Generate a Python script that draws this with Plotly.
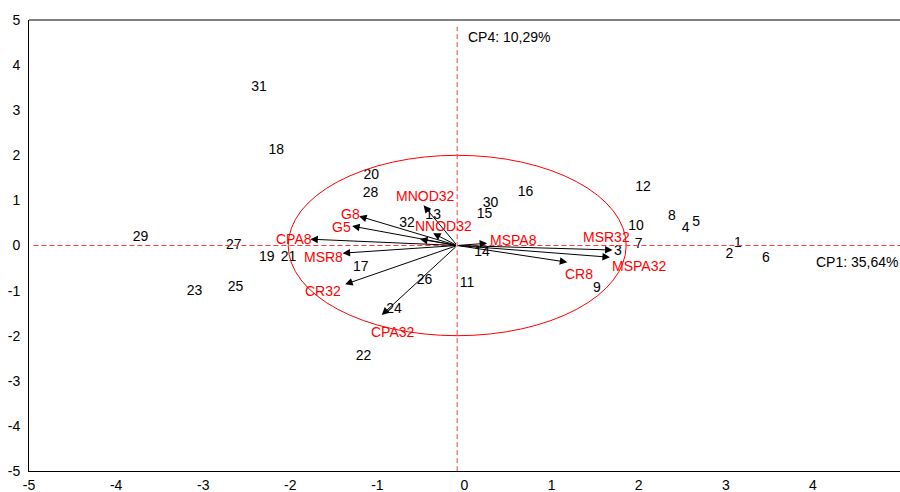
import plotly.graph_objects as go

# Observation scores (labelled by observation number)
obs_labels = ["1", "2", "3", "4", "5", "6", "7", "8", "9", "10",
              "11", "12", "13", "14", "15", "16", "17", "18", "19", "20",
              "21", "22", "23", "24", "25", "26", "27", "28", "29", "30",
              "31", "32"]
obs_x = [3.14, 3.04, 1.76, 2.54, 2.66, 3.46, 2.00, 2.38, 1.52, 1.97,
         0.03, 2.05, -0.36, 0.20, 0.23, 0.70, -1.19, -2.16, -2.27, -1.07,
         -2.02, -1.16, -3.10, -0.81, -2.63, -0.46, -2.65, -1.08, -3.72, 0.30,
         -2.36, -0.66]
obs_y = [0.05, -0.19, -0.13, 0.38, 0.52, -0.28, 0.03, 0.65, -0.95, 0.43,
         -0.84, 1.29, 0.67, -0.15, 0.69, 1.18, -0.48, 2.11, -0.26, 1.56,
         -0.26, -2.46, -1.02, -1.41, -0.93, -0.77, 0.00, 1.16, 0.18, 0.94,
         3.51, 0.49]

# Variable loadings (arrow tips)
var_names = ["G8", "G5", "CPA8", "MSR8", "CR32", "CPA32", "MNOD32", "NNOD32",
             "", "MSPA8", "MSR32", "MSPA32", "CR8"]
var_x = [-1.21, -1.29, -1.77, -1.40, -1.37, -0.95, -0.47, -0.36,
         -0.51, 0.26, 1.70, 1.67, 1.18]
var_y = [0.65, 0.43, 0.14, -0.17, -0.86, -1.54, 0.89, 0.27,
         0.14, 0.05, -0.10, -0.26, -0.37]

# Label placement relative to arrow tip, in pixels (dx, dy up)
var_label_shift = [(-9, 2), (-11, -1), (-16, 0), (-19, -4), (-22, -7), (11, -17),
                   (2, 9), (10, 7), (0, 0), (26, 3), (-6, 13), (29, -9), (12, -12)]

# Axis ticks
tick_vals = [-5, -4, -3, -2, -1, 0, 1, 2, 3, 4, 5]
tick_text = ["-5", "-4", "-3", "-2", "-1", "0", "1", "2", "3", "4", "5"]

# Origin of the biplot and correlation-circle radii
origin_x, origin_y = -0.084, 0.0
circle_rx, circle_ry = 1.94, 2.0

axis_title_cp1 = "CP1: 35,64%"
axis_title_cp4 = "CP4: 10,29%"

FONT = "Liberation Sans, Arial, sans-serif"
FS = 14
RED = "#ff0000"
DASH_RED = "#ff3b3b"

fig = go.Figure()

fig.add_trace(go.Scatter(
    x=obs_x, y=obs_y, mode="text", text=obs_labels,
    textposition="middle center",
    textfont=dict(family=FONT, size=FS, color="#000000"),
    hoverinfo="skip", showlegend=False, cliponaxis=False,
))

shapes = [
    # correlation circle
    dict(type="circle", xref="x", yref="y",
         x0=origin_x - circle_rx, x1=origin_x + circle_rx,
         y0=origin_y - circle_ry, y1=origin_y + circle_ry,
         line=dict(color=RED, width=1)),
    # horizontal reference line
    dict(type="line", xref="x", yref="y", x0=-4.95, x1=5.0, y0=origin_y, y1=origin_y,
         line=dict(color=DASH_RED, width=1, dash="5px,3px")),
    # vertical reference line
    dict(type="line", xref="x", yref="y", x0=origin_x, x1=origin_x, y0=-5.18, y1=4.85,
         line=dict(color=DASH_RED, width=1, dash="5px,3px")),
]

annotations = []
for name, vx, vy, (dx, dy) in zip(var_names, var_x, var_y, var_label_shift):
    annotations.append(dict(
        x=vx, y=vy, ax=origin_x, ay=origin_y, xref="x", yref="y",
        axref="x", ayref="y", text="", showarrow=True,
        arrowhead=2, arrowsize=1.5, arrowwidth=1, arrowcolor="#000000",
        standoff=0, startstandoff=0,
    ))
    if name:
        annotations.append(dict(
            x=vx, y=vy, xref="x", yref="y", text=name, showarrow=False,
            xshift=dx, yshift=dy, xanchor="center", yanchor="middle",
            font=dict(family=FONT, size=FS, color=RED),
        ))

annotations.append(dict(
    x=4.51, y=-0.37, xref="x", yref="y", text=axis_title_cp1, showarrow=False,
    xanchor="center", yanchor="middle",
    font=dict(family=FONT, size=FS, color="#000000"),
))
annotations.append(dict(
    x=0.02, y=4.62, xref="x", yref="y", text=axis_title_cp4, showarrow=False,
    xanchor="left", yanchor="middle",
    font=dict(family=FONT, size=FS, color="#000000"),
))

fig.update_layout(
    width=900, height=492,
    margin=dict(l=29, r=0, t=20, b=21, autoexpand=False),
    paper_bgcolor="#ffffff", plot_bgcolor="#ffffff",
    shapes=shapes, annotations=annotations,
    font=dict(family=FONT, size=FS, color="#000000"),
    showlegend=False,
)
fig.update_xaxes(
    range=[-5, 5], tickmode="array", tickvals=tick_vals, ticktext=tick_text,
    showgrid=False, zeroline=False, showline=True, linecolor="#000000",
    linewidth=1, mirror=False, ticks="", ticklabelstandoff=1,
    automargin=False,
    tickfont=dict(family=FONT, size=FS, color="#000000"),
)
fig.update_yaxes(
    range=[-5, 5], tickmode="array", tickvals=tick_vals, ticktext=tick_text,
    showgrid=False, zeroline=False, showline=True, linecolor="#000000",
    linewidth=1, mirror=False, ticks="", ticklabelstandoff=5,
    automargin=False,
    tickfont=dict(family=FONT, size=FS, color="#000000"),
)
# top border of the frame
fig.add_shape(type="line", xref="paper", yref="paper", x0=0, x1=1, y0=1, y1=1,
              line=dict(color="#000000", width=1))

fig.write_html("out.html")
